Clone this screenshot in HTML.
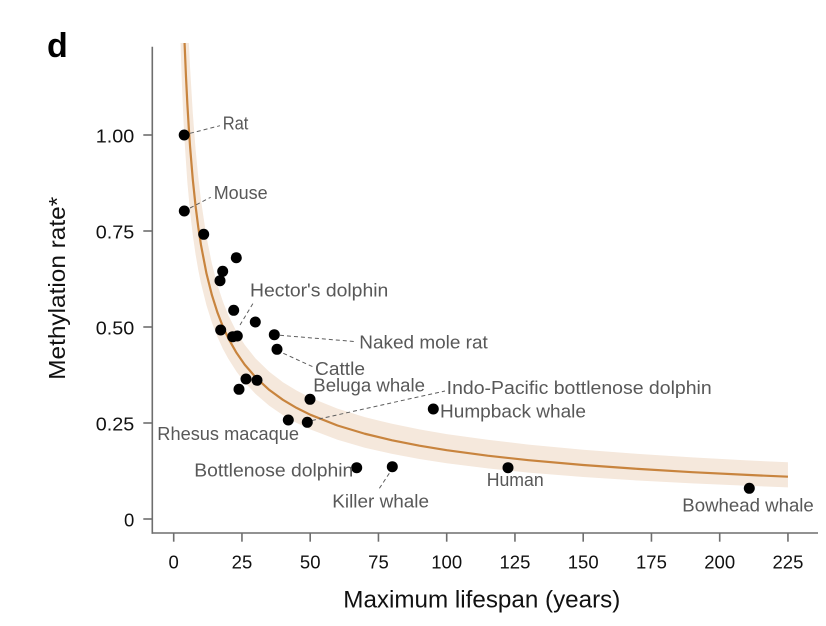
<!DOCTYPE html>
<html>
<head>
<meta charset="utf-8">
<style>
  html, body { margin:0; padding:0; background:#fff; }
  svg { display:block; }
  text { font-family: "Liberation Sans", "DejaVu Sans", sans-serif; }
</style>
</head>
<body>
<svg width="826" height="626" viewBox="0 0 826 626" xmlns="http://www.w3.org/2000/svg">
  <defs>
    <clipPath id="plot">
      <rect x="150" y="43" width="676" height="520"/>
    </clipPath>
  </defs>

  <!-- panel letter -->
  <text x="47" y="57" font-size="34" font-weight="bold" fill="#000">d</text>

  <!-- confidence band -->
  <g clip-path="url(#plot)">
    <polygon fill="#f5e8dc" points="
      188.72,39.9 190.08,67.8 192.81,113.3 195.54,148.6 198.27,177.0 201.0,200.4 206.46,236.7 211.92,263.7
      217.38,284.6 222.84,301.4 228.3,315.1 236.49,331.6 244.68,344.7 255.6,358.5 269.25,371.8 282.9,382.2
      296.55,390.5 310.2,397.6 337.5,408.6 364.8,417.1 392.1,423.8 419.4,429.4 446.7,434.1 487.65,439.8
      528.6,444.6 583.2,449.7 637.8,453.9 692.4,457.4 747.0,460.4 787.95,462.3
      787.95,487.4 747.0,485.8 692.4,483.4 637.8,480.5 583.2,477.0 528.6,472.6 487.65,468.4 446.7,463.2
      419.4,459.0 392.1,453.9 364.8,447.7 337.5,439.8 310.2,429.4 296.55,422.9 282.9,415.1 269.25,405.7
      255.6,394.0 244.68,382.3 236.49,371.6 228.3,358.8 222.84,348.7 217.38,336.8 211.92,322.6 206.46,305.3
      201.0,283.5 198.27,270.0 195.54,254.2 192.81,235.2 190.08,211.9 187.35,182.2 184.62,142.0 183.26,116.0
      181.89,83.8 181.07,60.3 180.53,42.4"/>
    <!-- fitted curve -->
    <polyline fill="none" stroke="#c8843e" stroke-width="2.2" stroke-linejoin="round" points="
      183.26,4.7 184.62,44.3 185.99,76.7 187.35,103.8 188.72,126.8 190.08,146.8 192.81,179.7 195.54,205.8
      198.27,227.2 201.0,245.1 206.46,273.4 211.92,295.1 217.38,312.3 222.84,326.5 228.3,338.3 236.49,352.8
      244.68,364.6 255.6,377.3 269.25,389.9 282.9,399.8 296.55,407.9 310.2,414.7 337.5,425.5 364.8,433.75
      392.1,440.3 419.4,445.7 446.7,450.2 487.65,455.7 528.6,460.2 583.2,465.0 637.8,468.9 692.4,472.2
      747.0,474.9 787.95,476.7"/>
  </g>

  <!-- axes -->
  <g stroke="#6e6e6e" stroke-width="1.6" fill="none">
    <line x1="152.3" y1="46.7" x2="152.3" y2="533.8"/>
    <line x1="151.5" y1="533" x2="818" y2="533"/>
    <!-- y ticks -->
    <line x1="143.3" y1="519" x2="152.3" y2="519"/>
    <line x1="143.3" y1="423" x2="152.3" y2="423"/>
    <line x1="143.3" y1="327" x2="152.3" y2="327"/>
    <line x1="143.3" y1="231" x2="152.3" y2="231"/>
    <line x1="143.3" y1="135" x2="152.3" y2="135"/>
    <!-- x ticks -->
    <line x1="173.7" y1="533" x2="173.7" y2="541.7"/>
    <line x1="241.95" y1="533" x2="241.95" y2="541.7"/>
    <line x1="310.2" y1="533" x2="310.2" y2="541.7"/>
    <line x1="378.45" y1="533" x2="378.45" y2="541.7"/>
    <line x1="446.7" y1="533" x2="446.7" y2="541.7"/>
    <line x1="514.95" y1="533" x2="514.95" y2="541.7"/>
    <line x1="583.2" y1="533" x2="583.2" y2="541.7"/>
    <line x1="651.45" y1="533" x2="651.45" y2="541.7"/>
    <line x1="719.7" y1="533" x2="719.7" y2="541.7"/>
    <line x1="787.95" y1="533" x2="787.95" y2="541.7"/>
  </g>

  <!-- y tick labels -->
  <g font-size="18.5" fill="#111" text-anchor="end">
    <text x="134.3" y="142.7" textLength="38.5" lengthAdjust="spacingAndGlyphs">1.00</text>
    <text x="134.3" y="238.7" textLength="38.5" lengthAdjust="spacingAndGlyphs">0.75</text>
    <text x="134.3" y="334.7" textLength="38.5" lengthAdjust="spacingAndGlyphs">0.50</text>
    <text x="134.3" y="430.7" textLength="38.5" lengthAdjust="spacingAndGlyphs">0.25</text>
    <text x="134.3" y="526.7">0</text>
  </g>

  <!-- x tick labels -->
  <g font-size="18.5" fill="#111" text-anchor="middle">
    <text x="173.7" y="568.3">0</text>
    <text x="241.95" y="568.3">25</text>
    <text x="310.2" y="568.3">50</text>
    <text x="378.45" y="568.3">75</text>
    <text x="446.7" y="568.3">100</text>
    <text x="514.95" y="568.3">125</text>
    <text x="583.2" y="568.3">150</text>
    <text x="651.45" y="568.3">175</text>
    <text x="719.7" y="568.3">200</text>
    <text x="787.95" y="568.3">225</text>
  </g>

  <!-- axis titles -->
  <text x="343.3" y="607.3" font-size="24" fill="#111" textLength="277" lengthAdjust="spacingAndGlyphs">Maximum lifespan (years)</text>
  <text transform="translate(65,288.3) rotate(-90)" x="0" y="0" font-size="23" fill="#111" text-anchor="middle" textLength="183" lengthAdjust="spacingAndGlyphs">Methylation rate*</text>

  <!-- leader lines -->
  <g stroke="#5e5e5e" stroke-width="1" stroke-dasharray="4,3" fill="none">
    <line x1="190" y1="133.3" x2="220" y2="125.7"/>
    <line x1="190" y1="208" x2="210.7" y2="197.3"/>
    <line x1="240" y1="325" x2="254" y2="301.7"/>
    <line x1="280" y1="335.3" x2="356.7" y2="341.7"/>
    <line x1="283.3" y1="353.3" x2="313.3" y2="367"/>
    <line x1="312" y1="420.5" x2="445" y2="391"/>
    <line x1="389.3" y1="473.3" x2="378.3" y2="490"/>
  </g>

  <!-- data points -->
  <g fill="#000">
    <circle cx="184.2" cy="135" r="5.5"/>
    <circle cx="184.3" cy="211" r="5.5"/>
    <circle cx="203.7" cy="234.3" r="5.5"/>
    <circle cx="236.3" cy="257.7" r="5.5"/>
    <circle cx="222.7" cy="271.3" r="5.5"/>
    <circle cx="220" cy="280.7" r="5.5"/>
    <circle cx="233.7" cy="310.3" r="5.5"/>
    <circle cx="255.3" cy="322" r="5.5"/>
    <circle cx="220.7" cy="330" r="5.5"/>
    <circle cx="232.7" cy="336.7" r="5.5"/>
    <circle cx="237.3" cy="336" r="5.5"/>
    <circle cx="274.3" cy="334.7" r="5.5"/>
    <circle cx="277" cy="349.3" r="5.5"/>
    <circle cx="246" cy="379" r="5.5"/>
    <circle cx="257" cy="380.3" r="5.5"/>
    <circle cx="239" cy="389.3" r="5.5"/>
    <circle cx="310" cy="399.3" r="5.5"/>
    <circle cx="288.3" cy="420" r="5.5"/>
    <circle cx="307.3" cy="422.3" r="5.5"/>
    <circle cx="433.3" cy="409" r="5.5"/>
    <circle cx="356.7" cy="467.7" r="5.5"/>
    <circle cx="392.3" cy="466.7" r="5.5"/>
    <circle cx="508" cy="467.7" r="5.5"/>
    <circle cx="749.3" cy="488.3" r="5.5"/>
  </g>

  <!-- species labels -->
  <g font-size="18" fill="#585858">
    <text x="222.7" y="129.3" textLength="25.7" lengthAdjust="spacingAndGlyphs">Rat</text>
    <text x="213.7" y="199" textLength="54" lengthAdjust="spacingAndGlyphs">Mouse</text>
    <text x="250" y="296.7" textLength="138.3" lengthAdjust="spacingAndGlyphs">Hector's dolphin</text>
    <text x="359.3" y="348.7" textLength="128.5" lengthAdjust="spacingAndGlyphs">Naked mole rat</text>
    <text x="315" y="375" textLength="50" lengthAdjust="spacingAndGlyphs">Cattle</text>
    <text x="313.3" y="391.7" textLength="111.7" lengthAdjust="spacingAndGlyphs">Beluga whale</text>
    <text x="446.7" y="394" textLength="265" lengthAdjust="spacingAndGlyphs">Indo-Pacific bottlenose dolphin</text>
    <text x="440" y="417.3" textLength="146" lengthAdjust="spacingAndGlyphs">Humpback whale</text>
    <text x="157.3" y="440" textLength="141.7" lengthAdjust="spacingAndGlyphs">Rhesus macaque</text>
    <text x="194.3" y="476.7" textLength="159" lengthAdjust="spacingAndGlyphs">Bottlenose dolphin</text>
    <text x="332.3" y="507.3" textLength="96.7" lengthAdjust="spacingAndGlyphs">Killer whale</text>
    <text x="486.7" y="486" textLength="57" lengthAdjust="spacingAndGlyphs">Human</text>
    <text x="682.3" y="511.7" textLength="131.5" lengthAdjust="spacingAndGlyphs">Bowhead whale</text>
  </g>
</svg>
</body>
</html>
